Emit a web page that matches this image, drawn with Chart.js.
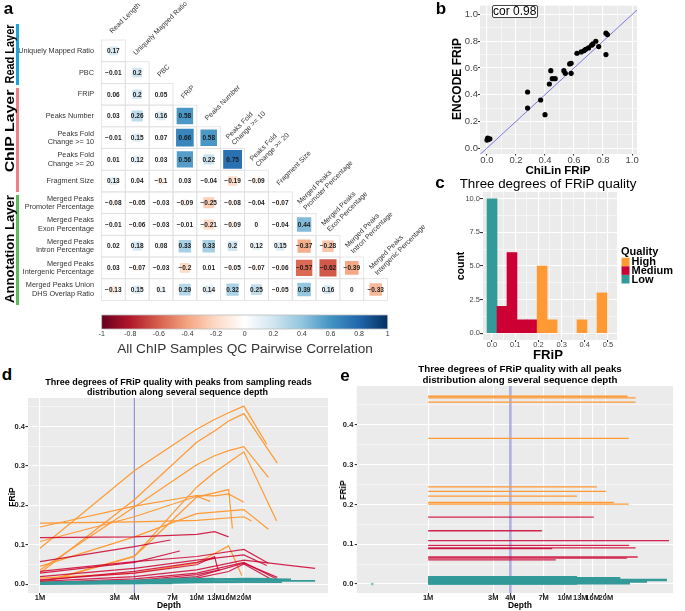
<!DOCTYPE html>
<html lang="en"><head><meta charset="utf-8"><title>ChIP QC figure</title>
<script src="https://cdn.jsdelivr.net/npm/chart.js@4.4.1/dist/chart.umd.min.js"></script>
<style>
html,body{margin:0;padding:0;background:#fff;}
#root{position:relative;width:685px;height:611px;overflow:hidden;background:#fff;}
#root canvas{position:absolute;}
.t{position:absolute;white-space:nowrap;line-height:1;}
.bar{position:absolute;}
</style></head><body>
<div id="root">
<canvas id="cA" width="455" height="312" style="left:0px;top:0px"></canvas>
<canvas id="cCB" width="455" height="30" style="left:0px;top:312px"></canvas>
<canvas id="cB" width="255" height="182" style="left:430px;top:0px"></canvas>
<canvas id="cC" width="255" height="190" style="left:430px;top:172px"></canvas>
<canvas id="cD" width="340" height="218" style="left:0px;top:393px"></canvas>
<canvas id="cE" width="345" height="231" style="left:340px;top:380px"></canvas>
</div>
<script>
// ================= DATA =================
// Panel a : correlation matrix (lower triangle)
const rowLabels = ['Uniquely Mapped Ratio','PBC','FRiP','Peaks Number',['Peaks Fold','Change >= 10'],['Peaks Fold','Change >= 20'],'Fragment Size',['Merged Peaks','Promoter Percentage'],['Merged Peaks','Exon Percentage'],['Merged Peaks','Intron Percentage'],['Merged Peaks','Intergenic Percentage'],['Merged Peaks Union','DHS Overlap Ratio']];
const colLabels = ['Read Length','Uniquely Mapped Ratio','PBC','FRiP','Peaks Number',['Peaks Fold','Change >= 10'],['Peaks Fold','Change >= 20'],'Fragment Size',['Merged Peaks','Promoter Percentage'],['Merged Peaks','Exon Percentage'],['Merged Peaks','Intron Percentage'],['Merged Peaks','Intergenic Percentage']];
const corrRows = [
  [0.17],
  [-0.01,0.2],
  [0.06,0.2,0.05],
  [0.03,0.26,0.16,0.58],
  [-0.01,0.15,0.07,0.66,0.58],
  [0.01,0.12,0.03,0.56,0.22,0.75],
  [0.13,0.04,-0.1,0.03,-0.04,-0.19,-0.09],
  [-0.08,-0.05,-0.03,-0.09,-0.25,-0.08,-0.04,-0.07],
  [-0.01,-0.06,-0.03,-0.01,-0.21,-0.09,0,-0.04,0.44],
  [0.02,0.18,0.08,0.33,0.33,0.2,0.12,0.15,-0.37,-0.28],
  [0.03,-0.07,-0.03,-0.2,0.01,-0.05,-0.07,-0.06,-0.57,-0.62,-0.39],
  [-0.13,0.15,0.1,0.29,0.14,0.32,0.25,-0.05,0.39,0.16,0,-0.33]
];
const cbTicks = [-1,-0.8,-0.6,-0.4,-0.2,0,0.2,0.4,0.6,0.8,1];
const corrPalette = ['#67001F','#B2182B','#D6604D','#F4A582','#FDDBC7','#FFFFFF','#D1E5F0','#92C5DE','#4393C3','#2166AC','#053061'];
const layerNames = ['Read Layer','ChIP Layer','Annotation Layer'];

// Panel b : ChiLin vs ENCODE FRiP
const bChilin = [0.00,0.01,0.02,0.005,0.28,0.28,0.37,0.40,0.43,0.44,0.45,0.47,0.53,0.54,0.57,0.58,0.58,0.62,0.65,0.67,0.68,0.70,0.72,0.73,0.75,0.77,0.82,0.83,0.82];
const bEncode = [0.06,0.065,0.07,0.075,0.42,0.30,0.36,0.25,0.48,0.58,0.52,0.52,0.58,0.56,0.63,0.635,0.56,0.71,0.72,0.73,0.74,0.75,0.77,0.78,0.80,0.76,0.86,0.85,0.70];
const bTicks = [0,0.2,0.4,0.6,0.8,1.0];
const bCorText = 'cor 0.98';

// Panel c : histogram of FRiP by quality
const qualityNames = ['High','Medium','Low'];
const cBins   = [0.000,0.043,0.086,0.129,0.172,0.216,0.259,0.302,0.345,0.388,0.431,0.474];
const cHigh   = [0,0,0,0,0,5,1,0,0,1,0,3];
const cMedium = [0,2,6,1,1,0,0,0,0,0,0,0];
const cLow    = [10,0,0,0,0,0,0,0,0,0,0,0];
const cXTicks = [0,0.1,0.2,0.3,0.4,0.5];
const cYTicks = [0,2.5,5,7.5,10];

// Panels d/e : FRiP vs sequencing depth (millions of reads)
const depthTicks = [1,3,4,7,10,13,16,20];
const fripTicks = [0,0.1,0.2,0.3,0.4];
const refDepth = 4;
const dHighDepth = [[1,4,10,13,16,20,28],[1,4,10,13,16,20,32.7],[1,4,10,13,16,20,28.7],[1,4,7,10,13,16,20,32.4],[1,4,10,20,22.4],[1,4,10,13,16,20],[1,4,10,12.2],[1,4,10,20,28.7],[1,4,7,10,16,16.9],[1,4,10,16,19.4]];
const dHighFrip  = [[0.091,0.288,0.393,0.418,0.435,0.452,0.355],[0.028,0.214,0.36,0.389,0.414,0.433,0.307],[0.036,0.196,0.303,0.326,0.339,0.349,0.271],[0.004,0.071,0.179,0.246,0.284,0.309,0.336,0.16],[0.155,0.158,0.162,0.171,0.16],[0.145,0.198,0.225,0.224,0.229,0.208],[0.108,0.171,0.223,0.21],[0.045,0.12,0.179,0.189,0.139],[0.0025,0.07,0.162,0.221,0.24,0.141],[0.015,0.028,0.053,0.097,0.022]];
const dMedDepth = [[1,4,10,13,16],[1,4,6.8],[1,4,7.8],[1,4,10,20,28.7],[1,4,10,20,28],[1,4,10,13,13.7],[1,4,10,20,57],[1,4,10,20,32.4],[1,4,10,20,32.7],[1,4,10,16,20,30.9],[1,4,10,13.1],[1,4,10,14.1]];
const dMedFrip  = [[0.118,0.12,0.126,0.133,0.12],[0.057,0.095,0.112],[0.028,0.055,0.084],[0.032,0.057,0.07,0.088,0.053],[0.019,0.04,0.061,0.074,0.047],[0.011,0.028,0.049,0.07,0.036],[0.007,0.019,0.036,0.061,0.04],[0.004,0.013,0.028,0.055,0.013],[0.0025,0.007,0.019,0.053,0.017],[0.001,0.004,0.015,0.032,0.051,0.009],[0.009,0.032,0.055,0.066],[0.0025,0.009,0.024,0.036]];
const dLowDepth = [[1,4,10,20,57],[1,4,10,20,40],[1,4,10,13],[1,4,10,20,35],[1,4,9],[1,4,10,20,30],[1,4,10,16],[1,4,10,20,26],[1,4,10],[1,4,7]];
const dLowFrip  = [[0.001,0.003,0.006,0.008,0.008],[0.002,0.006,0.012,0.013,0.012],[0.003,0.008,0.013,0.014],[0.001,0.002,0.004,0.005,0.005],[0.002,0.004,0.006],[0.003,0.007,0.011,0.014,0.013],[0.001,0.003,0.005,0.006],[0.002,0.005,0.01,0.012,0.011],[0.004,0.009,0.015],[0.001,0.002,0.002]];

const eStartDepth = 1;
const eHighFrip = [0.472,0.468,0.457,0.366,0.244,0.233,0.221,0.205,0.201];
const eHighEnd  = [28.8,33,33,29.4,17.2,20,12.3,22.9,29.4];
const eMedFrip  = [0.168,0.134,0.109,0.097,0.091,0.089,0.068,0.065,0.061];
const eMedEnd   = [16.3,6.8,58,29.6,33,8.1,34.2,28.5,8.6];
const eLowFrip  = [0.017,0.015,0.012,0.010,0.008,0.006,0.004,0.003,0.002,0.001];
const eLowEnd   = [12.3,25.5,9.8,56,40,40,9.8,20,30,12.3];
const eLowDot   = {x:0.39, y:0};

// ================= STYLE / HELPERS =================
const FONT = "'Liberation Sans', Arial, Helvetica, sans-serif";
const ORANGE = '#FF9933', RED = '#CC0033', TEAL = '#339999';
const qualityColors = [ORANGE, RED, TEAL];
Chart.defaults.font.family = FONT;
Chart.defaults.animation = false;
Chart.defaults.events = [];
Chart.defaults.plugins.legend.display = false;
Chart.defaults.plugins.tooltip.enabled = false;

const root = document.getElementById('root');
const mctx = document.createElement('canvas').getContext('2d');
function txt(s, cx, cy, o){
  o = o || {};
  const weight = o.bold ? 'bold ' : '';
  let size = o.size || 10;
  if (o.w){ mctx.font = weight + '100px ' + FONT; size = 100 * o.w / mctx.measureText(s).width; }
  let sx = 1;
  if (o.len){ mctx.font = weight + size + 'px ' + FONT; sx = o.len / mctx.measureText(s).width; }
  const d = document.createElement('div');
  d.className = 't'; d.textContent = s;
  d.style.font = weight + size.toFixed(2) + 'px ' + FONT;
  d.style.color = o.color || '#000';
  d.style.left = cx + 'px'; d.style.top = cy + 'px';
  d.style.transform = 'translate(-50%,-50%)' + (o.rot ? ' rotate(' + o.rot + 'deg)' : '') + (sx !== 1 ? ' scaleX(' + sx.toFixed(3) + ')' : '');
  root.appendChild(d);
  return d;
}
function box(x, y, w, h, color){
  const d = document.createElement('div'); d.className = 'bar';
  Object.assign(d.style, {left:x+'px', top:y+'px', width:w+'px', height:h+'px', background:color});
  root.appendChild(d);
}
function hex2rgb(h){ h = h.replace('#',''); return [0,2,4].map(i=>parseInt(h.substr(i,2),16)); }
function corrColor(v){
  const n = corrPalette.length - 1;
  const t = (v + 1) / 2 * n;
  const i = Math.min(Math.floor(t), n - 1), f = t - i;
  const a = hex2rgb(corrPalette[i]), b = hex2rgb(corrPalette[i+1]);
  return 'rgb(' + a.map((c,k)=>Math.round(c + (b[k]-c)*f)).join(',') + ')';
}
function fmtCorr(v){ return v === 0 ? '0' : String(v).replace('-', '\u2212'); }
function mids(majors, min, max){
  const step = majors[1] - majors[0];
  const out = [majors[0] - step/2];
  majors.forEach(m => out.push(m + step/2));
  return out.filter(v => v >= min && v <= max);
}
function gg(o){
  const majors = o.majors, minors = o.minors || [];
  const isMaj = v => majors.some(m => Math.abs(m - v) < 1e-9);
  return {
    type: o.type || 'linear', min: o.min, max: o.max, offset: false,
    afterBuildTicks: s => { s.ticks = majors.concat(minors).sort((a,b)=>a-b).map(v=>({value:v})); },
    afterFit: s => { if (o.width != null) s.width = o.width; if (o.height != null) s.height = o.height; },
    ticks: { autoSkip:false, maxRotation:0, minRotation:0, padding: o.pad || 0, font: o.font, color: o.color || '#333',
             callback: v => isMaj(v) ? o.fmt(v) : '' },
    grid: { offset:false, color:'#FFFFFF', drawTicks:true, tickLength: o.tl,
            lineWidth: c => (c.tick && isMaj(c.tick.value)) ? 1.1 : 0.5,
            tickColor: c => (c.tick && isMaj(c.tick.value)) ? '#333' : 'rgba(0,0,0,0)' },
    border: { display:false }
  };
}
const ggBg = { id:'ggBg', beforeDraw(ch){ const a = ch.chartArea, c = ch.ctx; c.save(); c.fillStyle = '#EBEBEB'; c.fillRect(a.left, a.top, a.right - a.left, a.bottom - a.top); c.restore(); } };

// ================= PANEL a : correlation matrix =================
const corrPoints = [];
corrRows.forEach((row,i) => row.forEach((v,j) => corrPoints.push({x:j, y:i, v:v})));
const cellSize = ch => [Math.abs(ch.scales.x.getPixelForValue(1) - ch.scales.x.getPixelForValue(0)), Math.abs(ch.scales.y.getPixelForValue(1) - ch.scales.y.getPixelForValue(0))];
const cellGridPlugin = { id:'cellGrid', beforeDatasetsDraw(ch){
  const c = ch.ctx, x = ch.scales.x, y = ch.scales.y, [cw, chh] = cellSize(ch);
  c.save(); c.strokeStyle = '#E0E0E0'; c.lineWidth = 0.8;
  corrRows.forEach((row,i) => row.forEach((v,j) => { const px = x.getPixelForValue(j), py = y.getPixelForValue(i); c.strokeRect(px - cw/2, py - chh/2, cw, chh); }));
  c.restore();
}};
const cellTextPlugin = { id:'cellText', afterDatasetsDraw(ch){
  const c = ch.ctx, meta = ch.getDatasetMeta(0), data = ch.data.datasets[0].data;
  c.save(); c.font = 'bold 6.5px ' + FONT; c.fillStyle = '#1a1a1a'; c.textAlign = 'center'; c.textBaseline = 'middle';
  meta.data.forEach((el,i) => c.fillText(fmtCorr(data[i].v), el.x, el.y + 0.5));
  c.restore();
}};
const colLabelPlugin = { id:'colLabels', afterDraw(ch){
  const c = ch.ctx, x = ch.scales.x, y = ch.scales.y, chh = cellSize(ch)[1];
  c.save(); c.font = '7px ' + FONT; c.fillStyle = '#333'; c.textAlign = 'left'; c.textBaseline = 'middle';
  colLabels.forEach((lab,j) => {
    const lines = Array.isArray(lab) ? lab : [lab];
    const cx = x.getPixelForValue(j), top = y.getPixelForValue(j) - chh/2;
    c.save(); c.translate(cx - 2.5, top - 7.5); c.rotate(-Math.PI/4);
    lines.forEach((s,k) => c.fillText(s, 0, (k - (lines.length - 1)/2) * 8.2));
    c.restore();
  });
  c.restore();
}};
new Chart(document.getElementById('cA'), {
  type:'scatter',
  data:{ datasets:[{ label:'correlation', data: corrPoints, pointStyle:'rect', borderWidth:0,
    pointRadius: ctx => ctx.raw ? Math.sqrt(Math.abs(ctx.raw.v)) * cellSize(ctx.chart)[1] / Math.SQRT2 : 0,
    backgroundColor: ctx => ctx.raw ? corrColor(ctx.raw.v) : '#fff' }]},
  options:{ responsive:false, layout:{ padding:{ left:0, top:40, right:67.4, bottom:1.4 } },
    scales:{
      x:{ type:'linear', min:-0.5, max:11.5, display:false },
      y:{ type:'linear', min:-0.5, max:11.5, reverse:true,
          afterBuildTicks: s => { s.ticks = rowLabels.map((_,i) => ({value:i})); },
          afterFit: s => { s.width = 101.4; },
          ticks:{ autoSkip:false, padding:7.4, color:'#333', font:{ size:7.3, lineHeight:1.14 }, callback: v => rowLabels[v] },
          grid:{ display:false, drawTicks:false, tickLength:0 }, border:{ display:false } }
    }},
  plugins:[cellGridPlugin, cellTextPlugin, colLabelPlugin]
});
// colour bar
const cbPlugin = { id:'cbar', beforeDatasetsDraw(ch){
  const a = ch.chartArea, c = ch.ctx, x = ch.scales.x;
  const g = c.createLinearGradient(x.getPixelForValue(-1), 0, x.getPixelForValue(1), 0);
  corrPalette.forEach((col,i) => g.addColorStop(i/(corrPalette.length-1), col));
  c.save(); c.fillStyle = g; c.fillRect(a.left, a.top, a.right - a.left, a.bottom - a.top);
  c.strokeStyle = '#BBBBBB'; c.lineWidth = 0.8; c.strokeRect(a.left, a.top, a.right - a.left, a.bottom - a.top); c.restore();
}};
new Chart(document.getElementById('cCB'), {
  type:'scatter', data:{ datasets:[{ data:[] }] },
  options:{ responsive:false, layout:{ padding:{ left:101.7, right:67.3, top:3, bottom:0 } },
    scales:{
      x:{ type:'linear', min:-1, max:1, afterBuildTicks: s => { s.ticks = cbTicks.map(v => ({value:v})); },
          afterFit: s => { s.height = 13; },
          ticks:{ autoSkip:false, maxRotation:0, padding:0.7, color:'#333', font:{ size:7 }, callback: v => String(Math.round(v*10)/10) },
          grid:{ display:false, drawTicks:false }, border:{ display:false } },
      y:{ display:false, min:0, max:1 }
    }},
  plugins:[cbPlugin]
});

// ================= PANEL b : scatter =================
new Chart(document.getElementById('cB'), {
  type:'scatter',
  data:{ datasets:[
    { label:'samples', data: bChilin.map((v,i) => ({x:v, y:bEncode[i]})), backgroundColor:'#000', borderColor:'#000', pointRadius:2.6, borderWidth:0, order:0 },
    { label:'identity', data:[{x:-0.2, y:-0.2}, {x:1.2, y:1.2}], showLine:true, borderColor:'#6B6BDC', borderWidth:0.9, pointRadius:0, clip:0, order:1 }
  ]},
  options:{ responsive:false, layout:{ padding:{ left:0, top:3, right:48, bottom:0 } },
    scales:{
      x: gg({ min:-0.048, max:1.034, majors:bTicks, minors:mids(bTicks,-0.048,1.034), fmt:v=>v.toFixed(1), font:{size:9.5}, color:'#444', height:28, tl:1.5, pad:-0.5 }),
      y: gg({ min:-0.044, max:1.066, majors:bTicks, minors:mids(bTicks,-0.044,1.066), fmt:v=>v.toFixed(1), font:{size:9.5}, color:'#444', width:50, tl:2, pad:0 })
    }},
  plugins:[ggBg]
});

// ================= PANEL c : histogram =================
const qualityLegend = { id:'qLegend', afterDraw(ch){
  const c = ch.ctx, a = ch.chartArea, x0 = a.right + 4, y0 = a.top + 60;
  c.save(); c.textBaseline = 'middle'; c.textAlign = 'left'; c.font = 'bold 11px ' + FONT; c.fillStyle = '#000';
  c.fillText('Quality', x0, y0);
  ch.data.datasets.forEach((ds,i) => {
    const ky = y0 + 5.7 + i * 8.6;
    c.fillStyle = ds.backgroundColor; c.fillRect(x0 + 0.5, ky, 8, 8.6);
    c.fillStyle = '#000'; c.fillText(ds.label, x0 + 10.5, ky + 4.6);
  });
  c.restore();
}};
const cCounts = [cHigh, cMedium, cLow];
new Chart(document.getElementById('cC'), {
  type:'bar',
  data:{ datasets: qualityNames.map((q,k) => ({
    label:q, data: cBins.map((b,i) => ({x:b, y:cCounts[k][i]})).filter(p => p.y > 0),
    backgroundColor: qualityColors[k], borderWidth:0, barPercentage:1, categoryPercentage:1, grouped:false })) },
  options:{ responsive:false, layout:{ padding:{ left:0, top:20, right:68, bottom:0 } },
    scales:{
      x: gg({ min:-0.039, max:0.539, majors:cXTicks, minors:mids(cXTicks,-0.039,0.539), fmt:v=>v.toFixed(1), font:{size:7.5}, color:'#444', height:22, tl:2, pad:-1.8 }),
      y: gg({ min:-0.5, max:10.5, majors:cYTicks, minors:mids(cYTicks,-0.5,10.5), fmt:v=>v.toFixed(1), font:{size:7.5}, color:'#444', width:53, tl:3, pad:0 })
    }},
  plugins:[ggBg, qualityLegend]
});

// ================= PANELS d / e : FRiP vs depth =================
function lineSets(depths, frips, color, width, order){
  return depths.map((d,k) => ({ data: d.map((x,i) => ({x:x, y:frips[k][i]})), borderColor:color, borderWidth:width, pointRadius:0, tension:0, fill:false, order:order }));
}
function flatSets(frips, ends, color, width, order){
  return frips.map((f,k) => ({ data:[{x:eStartDepth, y:f}, {x:ends[k], y:f}], borderColor:color, borderWidth:width, pointRadius:0, fill:false, order:order }));
}
const fripMinD = -0.0227, fripMaxD = 0.4726, fripMinE = -0.0225, fripMaxE = 0.498;
new Chart(document.getElementById('cD'), {
  type:'line',
  data:{ datasets:[
    ...lineSets(dLowDepth, dLowFrip, TEAL, 1.7, 1),
    ...lineSets(dMedDepth, dMedFrip, 'rgba(204,0,51,0.85)', 1.2, 2),
    ...lineSets(dHighDepth, dHighFrip, ORANGE, 1.2, 3),
    { data:[{x:refDepth, y:-1}, {x:refDepth, y:1}], borderColor:'#5C5CCF', borderWidth:0.8, pointRadius:0, clip:0, order:4 }
  ]},
  options:{ responsive:false, layout:{ padding:{ left:0, top:4, right:12, bottom:0 } },
    scales:{
      x: gg({ type:'logarithmic', min:0.838, max:68.9, majors:depthTicks, fmt:v=>v+'M', font:{size:7.5, weight:'bold'}, color:'#222', height:18, tl:2, pad:-1.5 }),
      y: gg({ min:fripMinD, max:fripMaxD, majors:fripTicks, minors:mids(fripTicks,fripMinD,fripMaxD), fmt:v=>v.toFixed(1), font:{size:7.5, weight:'bold'}, color:'#222', width:28, tl:2.5, pad:0.5 })
    }},
  plugins:[ggBg]
});
new Chart(document.getElementById('cE'), {
  type:'line',
  data:{ datasets:[
    { data:[eLowDot], showLine:false, pointRadius:1.4, backgroundColor:'#7CC4C4', borderWidth:0, order:0 },
    ...flatSets(eLowFrip, eLowEnd, TEAL, 2.4, 1),
    ...flatSets(eMedFrip, eMedEnd, 'rgba(204,0,51,0.85)', 1.3, 2),
    ...flatSets(eHighFrip, eHighEnd, ORANGE, 1.3, 3),
    { data:[{x:refDepth, y:-1}, {x:refDepth, y:1}], borderColor:'rgba(110,110,200,0.55)', borderWidth:2.4, pointRadius:0, clip:0, order:4 }
  ]},
  options:{ responsive:false, layout:{ padding:{ left:0, top:5, right:12, bottom:0 } },
    scales:{
      x: gg({ type:'logarithmic', min:0.305, max:62, majors:depthTicks, fmt:v=>v+'M', font:{size:7.5, weight:'bold'}, color:'#222', height:18, tl:2, pad:-1.5 }),
      y: gg({ min:fripMinE, max:fripMaxE, majors:fripTicks, minors:mids(fripTicks,fripMinE,fripMaxE), fmt:v=>v.toFixed(1), font:{size:7.5, weight:'bold'}, color:'#222', width:16.7, tl:2, pad:1.4 })
    }},
  plugins:[ggBg]
});

// ================= TEXT / DECORATION =================
// panel letters
txt('a', 8.5, 9, {bold:true, size:17});
txt('b', 441, 9, {bold:true, size:17});
txt('c', 440, 183, {bold:true, size:17});
txt('d', 7, 375, {bold:true, size:17});
txt('e', 345, 376, {bold:true, size:17});
// panel a layer labels and bars
box(15.5, 24, 3, 61, '#1AA3DC');
box(15.5, 88, 3, 104, '#F07F86');
box(15.5, 195, 3, 110, '#5DBB5D');
txt(layerNames[0], 8.5, 53.5, {bold:true, size:13, rot:-90, len:59});
txt(layerNames[1], 8.5, 130.5, {bold:true, size:13, rot:-90, len:83});
txt(layerNames[2], 8.5, 249, {bold:true, size:13, rot:-90, len:108});
txt('All ChIP Samples QC Pairwise Correlation', 245, 348, {w:256, color:'#333'});
// panel b
txt('ENCODE FRiP', 457, 78.5, {bold:true, size:12, rot:-90});
txt('ChiLin FRiP', 558, 170, {bold:true, w:65});
(function(){
  const d = document.createElement('div'); d.className = 't'; d.textContent = bCorText;
  Object.assign(d.style, {left:'491.5px', top:'4.8px', width:'46.6px', height:'13.5px', boxSizing:'border-box', border:'1px solid #444', borderRadius:'2px', background:'#fff', font:'12px ' + FONT, lineHeight:'11.5px', textAlign:'center'});
  root.appendChild(d);
})();
// panel c
txt('Three degrees of FRiP quality', 548, 182.5, {w:177});
txt('count', 460, 266, {bold:true, size:10.5, rot:-90});
txt('FRiP', 548, 353.5, {bold:true, w:30});
// panel d
txt('Three degrees of FRiP quality with peaks from sampling reads', 178.5, 381.7, {bold:true, w:267});
txt('distribution along several sequence depth', 177.5, 391.7, {bold:true, w:181});
txt('FRiP', 11.5, 497, {bold:true, size:8.5, rot:-90});
txt('Depth', 169, 605, {bold:true, size:8.5});
// panel e
txt('Three degrees of FRiP quality with all peaks', 520, 368.3, {bold:true, w:204});
txt('distribution along several sequence depth', 520, 379, {bold:true, w:195});
txt('FRiP', 343, 490, {bold:true, size:8.5, rot:-90});
txt('Depth', 520, 605, {bold:true, size:8.5});
</script>
</body></html>
